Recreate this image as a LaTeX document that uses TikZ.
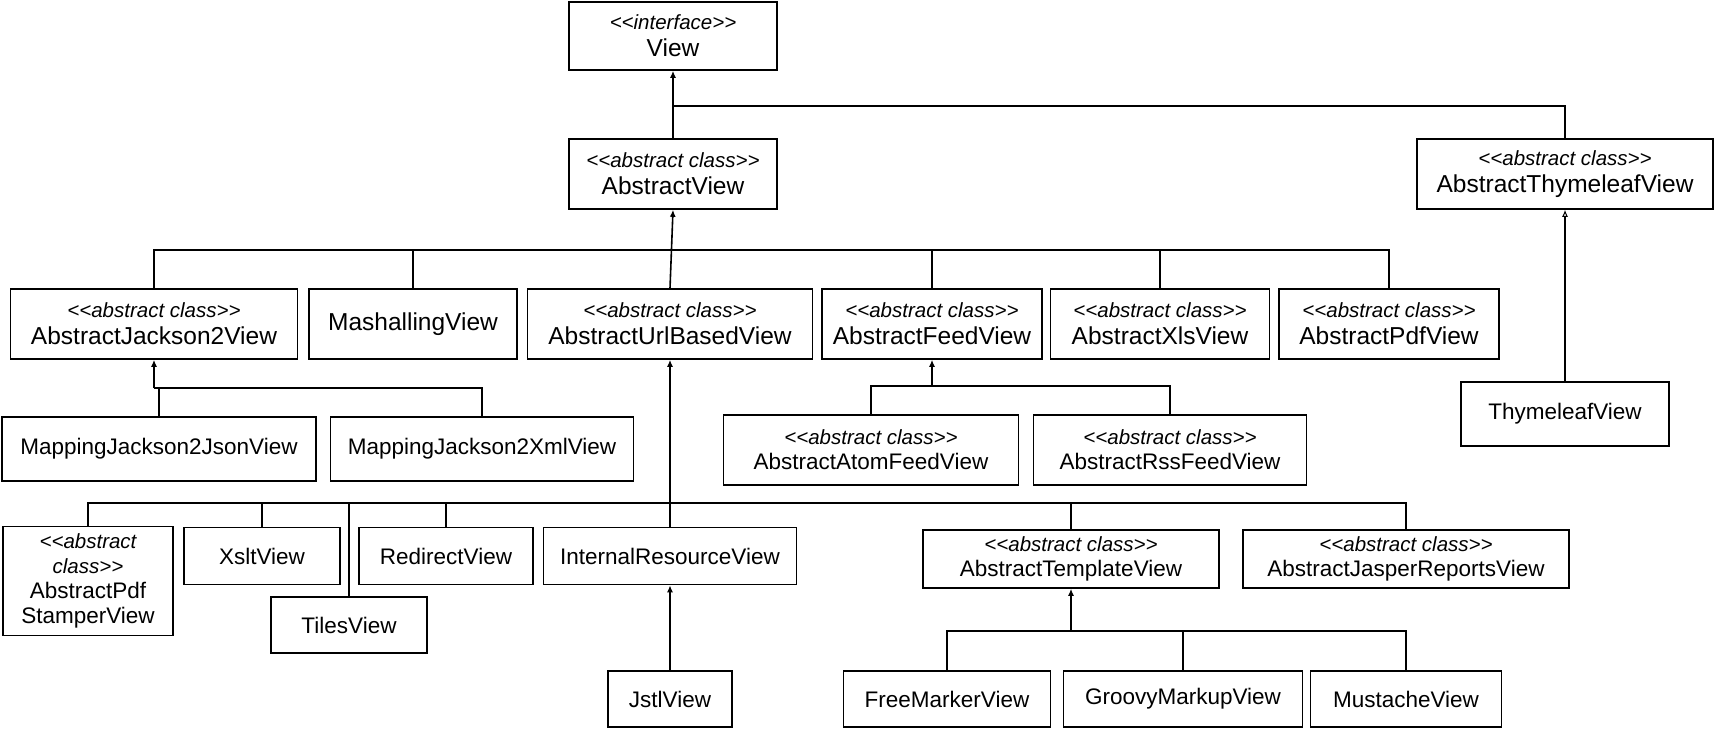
\documentclass[tikz,border=0pt]{standalone}
\usepackage{fontspec}
\setmainfont{Liberation Sans}
\usetikzlibrary{arrows.meta}
\newcommand\umlst[1]{{\fontsize{20.5}{26}\selectfont\itshape <\kern0pt<#1>\kern0pt>}}
\begin{document}
\begin{tikzpicture}[x=1pt,y=-1pt,
  box/.style={draw, line width=1.6pt, inner sep=0pt, align=center, fill=white,
    font=\fontsize{22.5}{25}\selectfont},
  big/.style={font=\fontsize{24.5}{27}\selectfont},
  conn/.style={line width=1.6pt},
  arr/.style={conn, -{Latex[length=7pt,width=6pt]}},
  arro/.style={conn, -{Latex[open,length=7pt,width=6pt,line width=1pt]}}]
\useasboundingbox (0,0) rectangle (1715,729);
% row 0/1
\node[box, big, minimum width=208pt, minimum height=68pt] (View) at (673,36) {\umlst{interface}\\View};
\node[box, big, minimum width=208pt, minimum height=70pt] (AV) at (673,174) {\umlst{abstract class}\\AbstractView};
\node[box, big, minimum width=296pt, minimum height=70pt] (ATV) at (1565,174) {\umlst{abstract class}\\AbstractThymeleafView};
% row 2
\node[box, big, minimum width=287pt, minimum height=70pt] (AJ2V) at (154,324) {\umlst{abstract class}\\AbstractJackson2View};
\node[box, big, minimum width=208pt, minimum height=70pt] (Mash) at (413,324) {MashallingView};
\node[box, big, minimum width=285pt, minimum height=70pt] (AUBV) at (670,324) {\umlst{abstract class}\\AbstractUrlBasedView};
\node[box, big, minimum width=220pt, minimum height=70pt] (AFeed) at (932,324) {\umlst{abstract class}\\AbstractFeedView};
\node[box, big, minimum width=219pt, minimum height=70pt] (AXls) at (1160,324) {\umlst{abstract class}\\AbstractXlsView};
\node[box, big, minimum width=220pt, minimum height=70pt] (APdf) at (1389,324) {\umlst{abstract class}\\AbstractPdfView};
\node[box, minimum width=208pt, minimum height=64pt] (TV) at (1565,414) {ThymeleafView};
% row 3
\node[box, minimum width=314pt, minimum height=64pt] (MJson) at (159,449) {MappingJackson2JsonView};
\node[box, minimum width=303pt, minimum height=64pt] (MXml) at (482,449) {MappingJackson2XmlView};
\node[box, minimum width=295pt, minimum height=70pt] (Atom) at (871,450) {\umlst{abstract class}\\AbstractAtomFeedView};
\node[box, minimum width=273pt, minimum height=70pt] (Rss) at (1170,450) {\umlst{abstract class}\\AbstractRssFeedView};
% row 4
\node[box, minimum width=170pt, minimum height=109pt] (Stamp) at (88,581) {{\fontsize{20.5}{25}\selectfont\itshape <\kern0pt<abstract}\\{\fontsize{20.5}{25}\selectfont\itshape class>\kern0pt>}\\AbstractPdf\\StamperView};
\node[box, minimum width=156pt, minimum height=57pt] (Xslt) at (262,556) {XsltView};
\node[box, minimum width=156pt, minimum height=56pt] (Tiles) at (349,625) {TilesView};
\node[box, minimum width=174pt, minimum height=57pt] (Redir) at (446,556) {RedirectView};
\node[box, minimum width=253pt, minimum height=57pt] (IRV) at (670,556) {InternalResourceView};
\node[box, minimum width=296pt, minimum height=58pt] (ATpl) at (1071,559) {\umlst{abstract class}\\AbstractTemplateView};
\node[box, minimum width=326pt, minimum height=58pt] (AJas) at (1406,559) {\umlst{abstract class}\\AbstractJasperReportsView};
% row 5
\node[box, minimum width=124pt, minimum height=56pt] (Jstl) at (670,699) {JstlView};
\node[box, minimum width=207pt, minimum height=56pt] (FM) at (947,699) {FreeMarkerView};
\node[box, minimum width=239pt, minimum height=56pt] (Groovy) at (1183,699) {GroovyMarkupView};
\node[box, minimum width=191pt, minimum height=56pt] (Must) at (1406,699) {MustacheView};
% connectors
\coordinate (b0) at (673,106);
\draw[arr] (AV.north) -- (View.south);
\draw[conn] (b0) -| (ATV.north);
\draw[arro] (TV.north) -- (ATV.south);
\coordinate (b1) at (673,250);
\draw[arr] (AUBV.north) -- (AV.south);
\draw[conn] (AJ2V.north) |- (b1) -| (APdf.north);
\draw[conn] (Mash.north) -- (Mash.north |- b1);
\draw[conn] (AFeed.north) -- (AFeed.north |- b1);
\draw[conn] (AXls.north) -- (AXls.north |- b1);
\coordinate (b2) at (154,388);
\draw[arr] (b2) -- (AJ2V.south);
\draw[conn] (MJson.north) |- (b2);
\draw[conn] (b2) -| (MXml.north);
\coordinate (b3) at (932,386);
\draw[arr] (b3) -- (AFeed.south);
\draw[conn] (Atom.north) |- (b3) -| (Rss.north);
\coordinate (b4) at (670,503);
\draw[arr] (IRV.north) -- (AUBV.south);
\draw[conn] (Stamp.north) |- (b4) -| (AJas.north);
\draw[conn] (Xslt.north) -- (Xslt.north |- b4);
\draw[conn] (Tiles.north) -- (Tiles.north |- b4);
\draw[conn] (Redir.north) -- (Redir.north |- b4);
\draw[conn] (ATpl.north) -- (ATpl.north |- b4);
\coordinate (b5) at (1071,631);
\draw[arr] (b5) -- (ATpl.south);
\draw[conn] (FM.north) |- (b5) -| (Must.north);
\draw[conn] (Groovy.north) -- (Groovy.north |- b5);
\draw[arr] (Jstl.north) -- (IRV.south);
\end{tikzpicture}
\end{document}
